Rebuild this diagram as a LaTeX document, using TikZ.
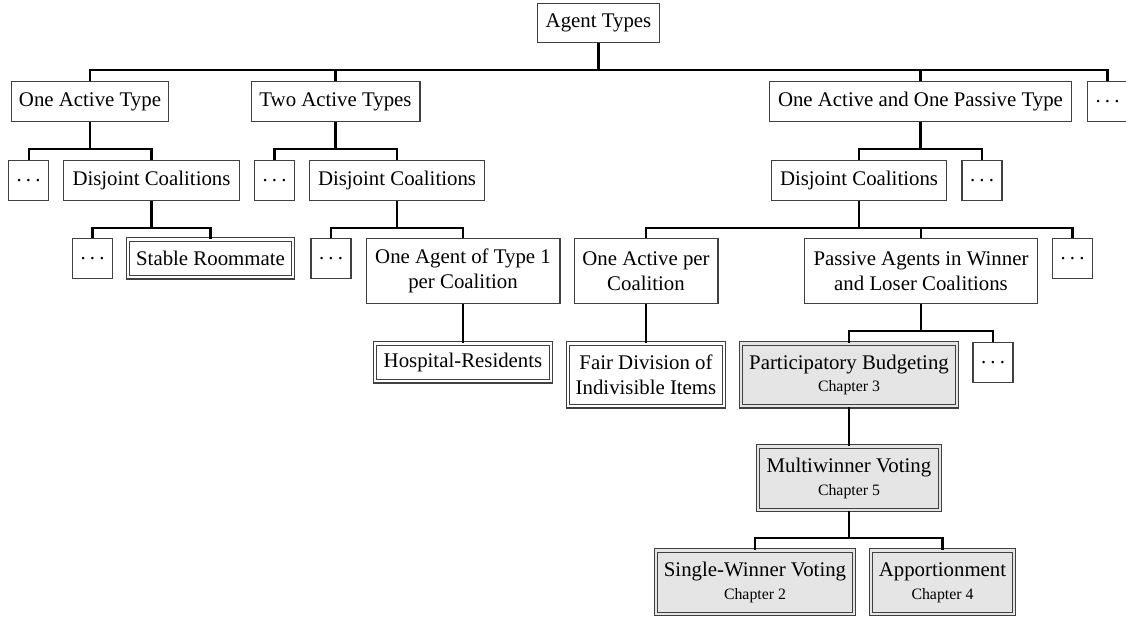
\documentclass[tikz,border=0pt]{standalone}
\usepackage{fontspec}
\setmainfont{Liberation Serif}
\newcommand{\chapfont}{\fontsize{7.6}{9}\selectfont}
\newcommand{\spdots}{.\kern0.2em.\kern0.2em.}
\begin{document}
\begin{tikzpicture}[x=0.48pt,y=-0.48pt,
  box/.style={draw=black!75, line width=0.5pt, inner sep=0pt, align=center,
    font=\fontsize{10}{12}\selectfont, anchor=north, minimum height=19.2pt},
  tall/.style={minimum height=31.2pt},
  dotbox/.style={box, minimum width=19.2pt},
  dbox/.style={box, double=white, double distance=1pt, minimum height=18.2pt},
  cbox/.style={dbox, fill=gray!20, double=gray!20, minimum height=30.6pt},
  conn/.style={draw=black, line width=1.05pt}]
\useasboundingbox (0,0) rectangle (1126,621);

% level 0
\node[box, minimum width=59pt, minimum height=18.7pt] (root) at (598.5,3) {Agent Types};

% level 1
\node[box, minimum width=75.8pt] (oat) at (90,81) {One Active Type};
\node[box, minimum width=81.1pt] (tat) at (335.5,81) {Two Active Types};
\node[box, minimum width=145.4pt] (oaop) at (920.5,81) {One Active and One Passive Type};
\node[dotbox] (d1) at (1107.5,81) {\spdots};

% level 2
\node[dotbox] (da) at (28.6,160) {\spdots};
\node[box, minimum width=84.3pt] (dca) at (151.5,160) {Disjoint Coalitions};
\node[dotbox] (db) at (274.5,160) {\spdots};
\node[box, minimum width=84.3pt] (dcb) at (397,160) {Disjoint Coalitions};
\node[box, minimum width=84.3pt] (dcc) at (859,160) {Disjoint Coalitions};
\node[dotbox] (dc) at (982,160) {\spdots};

% level 3
\node[dotbox] (dd) at (92.5,238) {\spdots};
\node[dbox, minimum width=79.1pt] (sr) at (210.5,239) {Stable Roommate};
\node[dotbox] (de) at (331,238) {\spdots};
\node[box, tall, minimum width=93.1pt] (oat1) at (463,238) {One Agent of Type 1\\per Coalition};
\node[box, tall, minimum width=69.1pt] (oapc) at (646,238) {One Active per\\Coalition};
\node[box, tall, minimum width=111.4pt] (pa) at (921,238) {Passive Agents in Winner\\and Loser Coalitions};
\node[dotbox] (df) at (1072.5,238) {\spdots};

% level 4
\node[dbox, minimum width=84.2pt] (hr) at (463,343) {Hospital-Residents};
\node[dbox, minimum width=74.6pt, minimum height=30.2pt] (fd) at (646,343) {Fair Division of\\Indivisible Items};
\node[cbox, minimum width=103.6pt, minimum height=30.2pt] (pb) at (849,343) {Participatory Budgeting\\[-1pt]{\chapfont Chapter 3}};
\node[dotbox] (dg) at (993,342) {\spdots};

% level 5
\node[cbox, minimum width=87.1pt] (mv) at (849,446) {Multiwinner Voting\\[-1pt]{\chapfont Chapter 5}};

% level 6
\node[cbox, minimum width=95.4pt] (swv) at (755,550) {Single-Winner Voting\\[-1pt]{\chapfont Chapter 2}};
\node[cbox, minimum width=68.6pt] (app) at (942.5,550) {Apportionment\\[-1pt]{\chapfont Chapter 4}};

% bar levels
\coordinate (b0) at (0,70);
\coordinate (b1) at (0,149);
\coordinate (b2) at (0,228);
\coordinate (b3) at (0,331);
\coordinate (b4) at (0,538);

% connectors
\foreach \c in {oat,tat,oaop,d1}
  \draw[conn] (root.south) -- (root.south |- b0) -| (\c.north);
\foreach \c in {da,dca}
  \draw[conn] (oat.south) -- (oat.south |- b1) -| (\c.north);
\foreach \c in {db,dcb}
  \draw[conn] (tat.south) -- (tat.south |- b1) -| (\c.north);
\foreach \c in {dcc,dc}
  \draw[conn] (oaop.south) -- (oaop.south |- b1) -| (\c.north);
\foreach \c in {dd,sr}
  \draw[conn] (dca.south) -- (dca.south |- b2) -| (\c.north);
\foreach \c in {de,oat1}
  \draw[conn] (dcb.south) -- (dcb.south |- b2) -| (\c.north);
\foreach \c in {oapc,pa,df}
  \draw[conn] (dcc.south) -- (dcc.south |- b2) -| (\c.north);
\draw[conn] (oat1.south) -- (hr.north);
\draw[conn] (oapc.south) -- (fd.north);
\foreach \c in {pb,dg}
  \draw[conn] (pa.south) -- (pa.south |- b3) -| (\c.north);
\draw[conn] (pb.south) -- (mv.north);
\foreach \c in {swv,app}
  \draw[conn] (mv.south) -- (mv.south |- b4) -| (\c.north);
\end{tikzpicture}
\end{document}
